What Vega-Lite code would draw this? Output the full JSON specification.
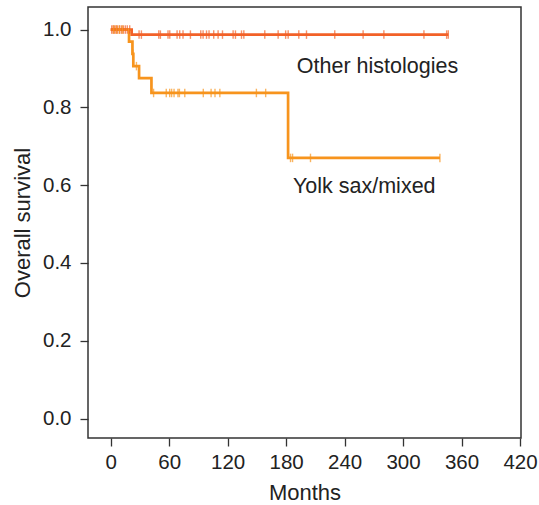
{
  "$schema": "https://vega.github.io/schema/vega-lite/v6.json",
  "autosize": "none",
  "padding": {"left": 88, "top": 7, "right": 18, "bottom": 67},
  "width": 433,
  "height": 431,
  "background": "white",
  "config": {
    "view": {"stroke": "#333333", "strokeWidth": 1.5},
    "font": "Liberation Sans",
    "axis": {
      "domain": false,
      "grid": false,
      "tickColor": "#333333",
      "tickSize": 8,
      "tickWidth": 1.3,
      "labelFont": "Liberation Sans",
      "labelFontSize": 20.5,
      "labelColor": "#222222",
      "labelFlush": false,
      "labelOverlap": false,
      "titleFont": "Liberation Sans",
      "titleFontSize": 22,
      "titleFontWeight": "normal",
      "titleColor": "#222222"
    }
  },
  "datasets": {
    "curves": [
      {"group": "Other histologies", "month": 0, "surv": 1.0},
      {"group": "Other histologies", "month": 21.5, "surv": 0.987},
      {"group": "Other histologies", "month": 346.5, "surv": 0.987},
      {"group": "Yolk sax/mixed", "month": 0, "surv": 1.0},
      {"group": "Yolk sax/mixed", "month": 18.8, "surv": 0.969},
      {"group": "Yolk sax/mixed", "month": 22.3, "surv": 0.9375},
      {"group": "Yolk sax/mixed", "month": 23.2, "surv": 0.906},
      {"group": "Yolk sax/mixed", "month": 29.1, "surv": 0.875},
      {"group": "Yolk sax/mixed", "month": 41.8, "surv": 0.837},
      {"group": "Yolk sax/mixed", "month": 182, "surv": 0.670},
      {"group": "Yolk sax/mixed", "month": 337.8, "surv": 0.670}
    ],
    "censors": [
      {"group": "Other histologies", "month": 1, "surv": 1.0},
      {"group": "Other histologies", "month": 2.5, "surv": 1.0},
      {"group": "Other histologies", "month": 4, "surv": 1.0},
      {"group": "Other histologies", "month": 5.5, "surv": 1.0},
      {"group": "Other histologies", "month": 7, "surv": 1.0},
      {"group": "Other histologies", "month": 9, "surv": 1.0},
      {"group": "Other histologies", "month": 11, "surv": 1.0},
      {"group": "Other histologies", "month": 13, "surv": 1.0},
      {"group": "Other histologies", "month": 15, "surv": 1.0},
      {"group": "Other histologies", "month": 17, "surv": 1.0},
      {"group": "Other histologies", "month": 19.5, "surv": 1.0},
      {"group": "Other histologies", "month": 29.1, "surv": 0.987},
      {"group": "Other histologies", "month": 31.5, "surv": 0.987},
      {"group": "Other histologies", "month": 49.3, "surv": 0.987},
      {"group": "Other histologies", "month": 51.0, "surv": 0.987},
      {"group": "Other histologies", "month": 58.8, "surv": 0.987},
      {"group": "Other histologies", "month": 60.6, "surv": 0.987},
      {"group": "Other histologies", "month": 68.1, "surv": 0.987},
      {"group": "Other histologies", "month": 70.8, "surv": 0.987},
      {"group": "Other histologies", "month": 74.2, "surv": 0.987},
      {"group": "Other histologies", "month": 81.8, "surv": 0.987},
      {"group": "Other histologies", "month": 92.4, "surv": 0.987},
      {"group": "Other histologies", "month": 94.8, "surv": 0.987},
      {"group": "Other histologies", "month": 98.3, "surv": 0.987},
      {"group": "Other histologies", "month": 100.9, "surv": 0.987},
      {"group": "Other histologies", "month": 105.7, "surv": 0.987},
      {"group": "Other histologies", "month": 110.2, "surv": 0.987},
      {"group": "Other histologies", "month": 114.7, "surv": 0.987},
      {"group": "Other histologies", "month": 125.6, "surv": 0.987},
      {"group": "Other histologies", "month": 128.0, "surv": 0.987},
      {"group": "Other histologies", "month": 134.2, "surv": 0.987},
      {"group": "Other histologies", "month": 136.6, "surv": 0.987},
      {"group": "Other histologies", "month": 158.1, "surv": 0.987},
      {"group": "Other histologies", "month": 171.8, "surv": 0.987},
      {"group": "Other histologies", "month": 179.5, "surv": 0.987},
      {"group": "Other histologies", "month": 182.1, "surv": 0.987},
      {"group": "Other histologies", "month": 193.0, "surv": 0.987},
      {"group": "Other histologies", "month": 200.9, "surv": 0.987},
      {"group": "Other histologies", "month": 229.9, "surv": 0.987},
      {"group": "Other histologies", "month": 259.0, "surv": 0.987},
      {"group": "Other histologies", "month": 280.3, "surv": 0.987},
      {"group": "Other histologies", "month": 321.4, "surv": 0.987},
      {"group": "Other histologies", "month": 344.7, "surv": 0.987},
      {"group": "Other histologies", "month": 346.4, "surv": 0.987},
      {"group": "Yolk sax/mixed", "month": 3, "surv": 1.0},
      {"group": "Yolk sax/mixed", "month": 6, "surv": 1.0},
      {"group": "Yolk sax/mixed", "month": 9, "surv": 1.0},
      {"group": "Yolk sax/mixed", "month": 12, "surv": 1.0},
      {"group": "Yolk sax/mixed", "month": 22.7, "surv": 0.9375},
      {"group": "Yolk sax/mixed", "month": 26.4, "surv": 0.906},
      {"group": "Yolk sax/mixed", "month": 44, "surv": 0.837},
      {"group": "Yolk sax/mixed", "month": 57, "surv": 0.837},
      {"group": "Yolk sax/mixed", "month": 60.5, "surv": 0.837},
      {"group": "Yolk sax/mixed", "month": 62.5, "surv": 0.837},
      {"group": "Yolk sax/mixed", "month": 65, "surv": 0.837},
      {"group": "Yolk sax/mixed", "month": 69, "surv": 0.837},
      {"group": "Yolk sax/mixed", "month": 70.5, "surv": 0.837},
      {"group": "Yolk sax/mixed", "month": 76, "surv": 0.837},
      {"group": "Yolk sax/mixed", "month": 95, "surv": 0.837},
      {"group": "Yolk sax/mixed", "month": 103, "surv": 0.837},
      {"group": "Yolk sax/mixed", "month": 107, "surv": 0.837},
      {"group": "Yolk sax/mixed", "month": 112, "surv": 0.837},
      {"group": "Yolk sax/mixed", "month": 149.5, "surv": 0.837},
      {"group": "Yolk sax/mixed", "month": 159, "surv": 0.837},
      {"group": "Yolk sax/mixed", "month": 184.5, "surv": 0.670},
      {"group": "Yolk sax/mixed", "month": 186.6, "surv": 0.670},
      {"group": "Yolk sax/mixed", "month": 205, "surv": 0.670},
      {"group": "Yolk sax/mixed", "month": 337.8, "surv": 0.670}
    ],
    "labels": [
      {"label": "Other histologies", "month": 191, "surv": 0.903},
      {"label": "Yolk sax/mixed", "month": 187, "surv": 0.594}
    ]
  },
  "layer": [
    {
      "data": {"name": "curves"},
      "mark": {"type": "line", "interpolate": "step-after", "strokeWidth": 2.7, "clip": true},
      "encoding": {
        "x": {
          "field": "month", "type": "quantitative",
          "scale": {"domain": [-23.3, 421], "nice": false, "zero": false},
          "axis": {"values": [0, 60, 120, 180, 240, 300, 360, 420], "title": "Months", "labelPadding": 6, "titlePadding": 10}
        },
        "y": {
          "field": "surv", "type": "quantitative",
          "scale": {"domain": [-0.05, 1.058], "nice": false, "zero": false},
          "axis": {"values": [0, 0.2, 0.4, 0.6, 0.8, 1.0], "format": ".1f", "title": "Overall survival", "labelPadding": 9, "titleX": -58.5, "titleBaseline": "alphabetic"}
        },
        "color": {
          "field": "group", "type": "nominal",
          "scale": {"domain": ["Other histologies", "Yolk sax/mixed"], "range": ["#F26128", "#F7941D"]},
          "legend": null
        },
        "order": {"field": "month", "type": "quantitative"}
      }
    },
    {
      "data": {"name": "censors"},
      "mark": {"type": "tick", "orient": "vertical", "size": 8.5, "thickness": 1.4},
      "encoding": {
        "x": {"field": "month", "type": "quantitative"},
        "y": {"field": "surv", "type": "quantitative"},
        "color": {"field": "group", "type": "nominal", "legend": null}
      }
    },
    {
      "data": {"name": "labels"},
      "mark": {"type": "text", "align": "left", "baseline": "middle", "fontSize": 21.5, "font": "Liberation Sans", "color": "#222222"},
      "encoding": {
        "x": {"field": "month", "type": "quantitative"},
        "y": {"field": "surv", "type": "quantitative"},
        "text": {"field": "label", "type": "nominal"}
      }
    }
  ]
}
